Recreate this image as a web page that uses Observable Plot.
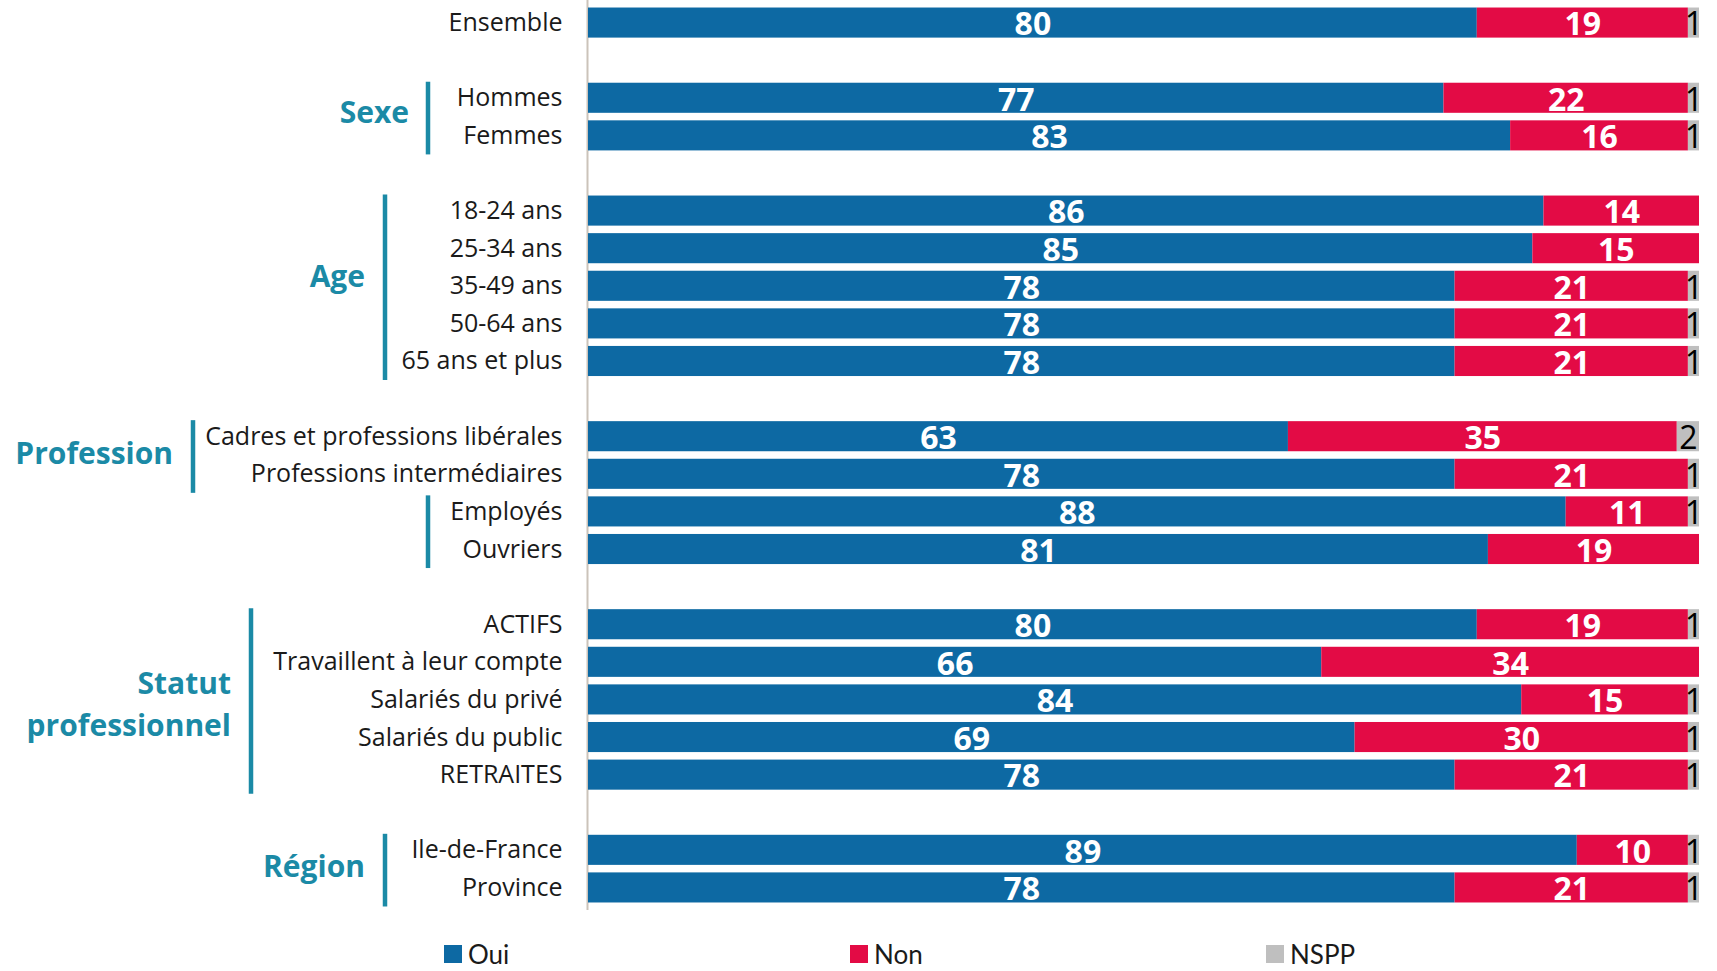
<!DOCTYPE html>
<html>
<head>
<meta charset="utf-8">
<script src="https://cdn.jsdelivr.net/npm/d3@7"></script>
<script src="https://cdn.jsdelivr.net/npm/@observablehq/plot@0.6"></script>
<style>
  body { margin: 0; background: #fff; font-family: "Open Sans", Lato, sans-serif; }
  #page { position: relative; width: 1717px; height: 971px; overflow: hidden; }
  .leg { position: absolute; top: 940px; height: 28px; line-height: 28px; display: flex; align-items: center; font-size: 26px; color: #1a1a1a; font-family: Lato, sans-serif; }
  .leg span.sw { display: inline-block; width: 18px; height: 18px; margin-right: 6px; }
</style>
</head>
<body>
<div id="page"></div>
<script>
// ---- Data ----
const categories = [
  "Ensemble",
  "Hommes", "Femmes",
  "18-24 ans", "25-34 ans", "35-49 ans", "50-64 ans", "65 ans et plus",
  "Cadres et professions libérales", "Professions intermédiaires", "Employés", "Ouvriers",
  "ACTIFS", "Travaillent à leur compte", "Salariés du privé", "Salariés du public", "RETRAITES",
  "Ile-de-France", "Province"
];
const oui  = [80, 77, 83, 86, 85, 78, 78, 78, 63, 78, 88, 81, 80, 66, 84, 69, 78, 89, 78];
const non  = [19, 22, 16, 14, 15, 21, 21, 21, 35, 21, 11, 19, 19, 34, 15, 30, 21, 10, 21];
const nspp = [ 1,  1,  1,  0,  0,  1,  1,  1,  2,  1,  1,  0,  1,  0,  1,  1,  1,  1,  1];
const responses = ["Oui", "Non", "NSPP"];
const colors = ["#0d69a3", "#e30b45", "#bfbfbf"];

// Row blocks (a blank row separates blocks)
const blocks = [
  ["Ensemble"],
  ["Hommes", "Femmes"],
  ["18-24 ans", "25-34 ans", "35-49 ans", "50-64 ans", "65 ans et plus"],
  ["Cadres et professions libérales", "Professions intermédiaires", "Employés", "Ouvriers"],
  ["ACTIFS", "Travaillent à leur compte", "Salariés du privé", "Salariés du public", "RETRAITES"],
  ["Ile-de-France", "Province"]
];
const groupNames = [
  {label: ["Sexe"], first: "Hommes", last: "Femmes"},
  {label: ["Age"], first: "18-24 ans", last: "65 ans et plus"},
  {label: ["Profession"], first: "Cadres et professions libérales", last: "Professions intermédiaires"},
  {label: ["Statut", "professionnel"], first: "ACTIFS", last: "RETRAITES"},
  {label: ["Région"], first: "Ile-de-France", last: "Province"}
];
const extraBrackets = [{first: "Employés", last: "Ouvriers"}];

// ---- Build ----
const rows = [];
blocks.forEach((b, i) => { if (i > 0) rows.push("_gap" + i); rows.push(...b); });

const long = [];
categories.forEach((c, i) => {
  long.push({cat: c, reponse: "Oui", value: oui[i]});
  long.push({cat: c, reponse: "Non", value: non[i]});
  long.push({cat: c, reponse: "NSPP", value: nspp[i]});
});

const teal = "#1b8aa6";

const plot = Plot.plot({
  width: 1717,
  height: 918,
  marginLeft: 588,
  marginRight: 18,
  marginTop: 0,
  marginBottom: 8,
  style: {fontFamily: "'Open Sans', sans-serif", fontSize: "25px", color: "#1a1a1a", background: "white"},
  x: {domain: [0, 100], axis: null},
  y: {domain: rows, padding: 0.2, round: false, label: null},
  color: {domain: responses, range: colors},
  marks: [
    Plot.ruleX([0], {stroke: "#cbc3ba", strokeWidth: 2, dx: -1}),
    Plot.barX(long, {x: "value", y: "cat", fill: "reponse", order: responses}),
    Plot.axisY({tickSize: 0, tickPadding: 26, fontSize: 25, tickFormat: d => d.startsWith("_gap") ? "" : d}),
    Plot.text(long, Plot.filter(d => d.reponse !== "NSPP" && d.value > 0,
      Plot.stackX({x: "value", y: "cat", z: "reponse", order: responses,
        text: d => String(d.value), fill: "white", fontSize: 32, fontWeight: "bold", dy: 2}))),
    Plot.text(long, Plot.filter(d => d.reponse === "NSPP" && d.value > 0,
      Plot.stackX({x: "value", y: "cat", z: "reponse", order: responses,
        text: d => String(d.value), fill: "#000", fontSize: 32, fontWeight: 500, dy: 2})))
  ]
});

document.getElementById("page").appendChild(plot);

// ---- Group brackets & labels, positioned with Plot's y scale ----
const ys = plot.scale("y");
const bw = ys.bandwidth;
const svg = d3.select(plot);
const layout = {
  "Sexe":       {lineX: 428, textX: 409, dy: -4},
  "Age":        {lineX: 385, textX: 365, dy: -10},
  "Profession": {lineX: 193, textX: 173, dy: -2},
  "Statut":     {lineX: 251, textX: 231, dy: 5},
  "Région":     {lineX: 385, textX: 365, dy: -2}
};
const gsize = 30;
function bracket(first, last, x) {
  svg.append("line")
    .attr("x1", x).attr("x2", x)
    .attr("y1", ys.apply(first) - 1)
    .attr("y2", ys.apply(last) + bw + 4)
    .attr("stroke", teal).attr("stroke-width", 4.5);
}
groupNames.forEach(g => {
  const L = layout[g.label[0]];
  bracket(g.first, g.last, L.lineX);
  const mid = (ys.apply(g.first) + ys.apply(g.last) + bw) / 2 + L.dy;
  const n = g.label.length, lh = 42;
  g.label.forEach((t, k) => {
    const cy = mid + (k - (n - 1) / 2) * lh;
    svg.append("text")
      .attr("x", L.textX).attr("y", cy + 0.36 * gsize)
      .attr("text-anchor", "end")
      .attr("fill", teal)
      .attr("font-family", "'Open Sans', sans-serif")
      .attr("font-weight", "bold")
      .attr("font-size", gsize)
      .text(t);
  });
});
extraBrackets.forEach(b => bracket(b.first, b.last, 428));

// ---- Legend (HTML, below the SVG) ----
const legendX = [444, 850, 1266];
const page = document.getElementById("page");
responses.forEach((r, i) => {
  const d = document.createElement("div");
  d.className = "leg";
  d.style.left = legendX[i] + "px";
  d.innerHTML = `<span class="sw" style="background:${colors[i]}"></span>${r}`;
  page.appendChild(d);
});
</script>
</body>
</html>
